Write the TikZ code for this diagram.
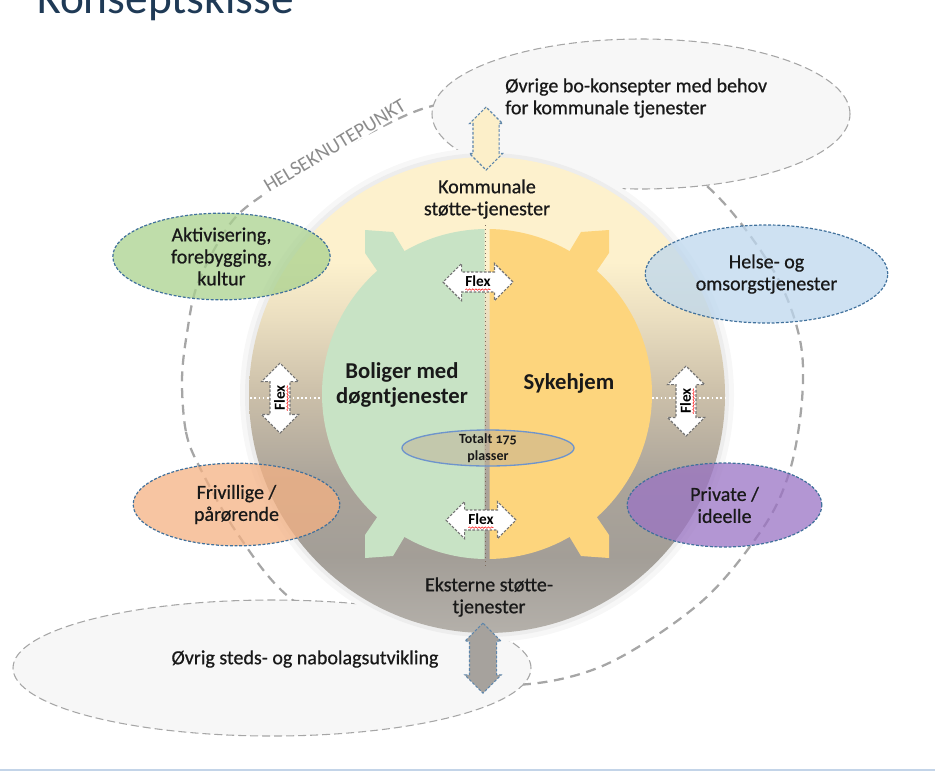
\documentclass[tikz,border=0pt]{standalone}
\usepackage{fontspec}
\setmainfont{Carlito}
\newfontfamily\lblfont{Carlito}[FakeBold=0.7]
\usetikzlibrary{shapes.geometric,shapes.arrows,decorations.pathmorphing}

\definecolor{titleblue}{HTML}{1F3A56}
\definecolor{ringtop}{HTML}{FDF1CD}
\definecolor{ringupmid}{HTML}{EADEC0}
\definecolor{ringmid}{HTML}{CBBFA9}
\definecolor{ringlowmid}{HTML}{ABA49A}
\definecolor{ringlow}{HTML}{A39E97}
\definecolor{ringbot}{HTML}{B4B0AA}
\definecolor{boliggreen}{HTML}{C8E3C5}
\definecolor{sykeyellow}{HTML}{FDD57D}
\definecolor{aktivgreen}{HTML}{A9D18E}
\definecolor{frivorange}{HTML}{F4B183}
\definecolor{helseblue}{HTML}{BDD7EE}
\definecolor{privpurple}{HTML}{9A73C4}
\definecolor{dashblue}{HTML}{41719C}
\definecolor{dashgrey}{HTML}{A6A6A6}
\definecolor{knutegrey}{HTML}{8C8C8C}
\definecolor{totaltfill}{HTML}{BFAE94}
\definecolor{totaltline}{HTML}{6E94CC}
\definecolor{linkyellow}{HTML}{FCEFC9}
\definecolor{linkgrey}{HTML}{A6A29D}
\definecolor{divbrown}{HTML}{7D6B5D}
\definecolor{bottomblue}{HTML}{C3D4E8}

\pgfdeclareverticalshading{ringshade}{100bp}{color(0bp)=(ringbot); color(25bp)=(ringbot); color(33bp)=(ringlow); color(41bp)=(ringlowmid); color(50bp)=(ringmid); color(58bp)=(ringupmid); color(64bp)=(ringtop); color(100bp)=(ringtop)}

\begin{document}
\begin{tikzpicture}[x=0.75pt,y=-0.75pt,
  lbl/.style={font=\lblfont\fontsize{15}{16.5}\selectfont, align=center, text=black!90},
  bigbold/.style={font=\fontsize{17}{19}\selectfont\bfseries, align=center, text=black!90},
  sphere/.style={ellipse, draw=dashblue, line width=0.9pt, dash pattern=on 2.2pt off 1.3pt, fill opacity=0.75, inner sep=0pt},
  wideoval/.style={ellipse, draw=dashgrey, line width=0.8pt, dash pattern=on 6pt off 3pt, fill=black!3, inner sep=0pt},
  knute/.style={draw=dashgrey, line width=1.7pt, dash pattern=on 7.5pt off 5pt},
  flexarrow/.style={double arrow, draw=black!55, line width=0.8pt, dash pattern=on 2pt off 1.2pt, fill=white,
    double arrow head extend=6.4pt, inner xsep=1pt, inner ysep=3.4pt, text height=7.4pt, text depth=0pt,
    minimum height=52.5pt, font=\fontsize{11.5}{12}\selectfont\bfseries},
  linkarrow/.style={double arrow, draw=dashblue!85, line width=0.8pt, dash pattern=on 2pt off 1.3pt, rotate=90,
    inner sep=0pt, text depth=0pt},
  wavy/.style={red!85, line width=0.45pt, decorate, decoration={snake, amplitude=0.55pt, segment length=2.4pt}}]
\useasboundingbox (0,0) rectangle (935,772);

\node[anchor=base west, inner sep=0pt, text=titleblue, font=\fontsize{34}{34}\selectfont] (title) at (37,13) {Konseptskisse};
\draw[bottomblue, line width=2.2pt] (0,770) -- (935,770);

\draw[knute] plot[smooth cycle, tension=0.55] coordinates {(182,380) (186,432) (200,468) (237,533) (290,598) (390,660) (500,685) (600,667) (700,603) (763,528) (790,470) (802,400) (800,340) (776,275) (723,202) (660,150) (580,115) (500,100) (425,108) (338,150) (266,193) (230,224) (198,283) (187,333)};
\node[text=knutegrey, fill=white, inner sep=1pt, rotate=31, anchor=base, font=\fontsize{15}{15}\selectfont] (knutetxt) at (338,151) {HELSEKNUTEPUNKT};

\node[wideoval, minimum width=313.5pt, minimum height=112.5pt] (bokons) at (641,114) {};
\node[wideoval, minimum width=388.5pt, minimum height=102pt] (nabolag) at (272,668) {};

\fill[black!3] (487,395) circle (247);
\fill[black!7] (487,395) circle (242);
\shade[shading=ringshade] (487,395) circle (238);

\draw[white, dotted, line width=1.2pt] (250,398) -- (320,398);
\draw[white, dotted, line width=1.2pt] (652,398) -- (727,398);

\begin{scope}
  \clip (0,0) rectangle (484.5,772);
  \fill[boliggreen] (487,394) circle (165);
  \fill[boliggreen] (487,394) -- (405,252) -- (393,232) -- (365,230) -- (365,253) -- (378,272) -- cycle;
  \fill[boliggreen] (487,394) -- (405,536) -- (393,556) -- (365,558) -- (365,535) -- (378,516) -- cycle;
\end{scope}
\begin{scope}
  \clip (489.5,0) rectangle (935,772);
  \fill[sykeyellow] (487,394) circle (165);
  \fill[sykeyellow] (487,394) -- (569,252) -- (581,232) -- (609,230) -- (609,253) -- (596,272) -- cycle;
  \fill[sykeyellow] (487,394) -- (569,536) -- (581,556) -- (609,558) -- (609,535) -- (596,516) -- cycle;
\end{scope}
\draw[divbrown, dotted, line width=1pt] (485.5,225) -- (485.5,567);

\node[flexarrow] (flextop) at (478,282) {Flex};
\node[flexarrow] (flexbot) at (481,520) {Flex};
\node[flexarrow, rotate=90] (flexleft) at (280,398) {Flex};
\node[flexarrow, rotate=90] (flexright) at (686,401) {Flex};
\foreach \n in {flextop,flexbot}
  \draw[wavy] ([yshift=-2pt]\n.text) -- ++(19pt,0);
\foreach \n in {flexleft,flexright}
  \draw[wavy] ([xshift=2pt]\n.text) -- ++(0,19pt);

\node[linkarrow, fill=linkyellow, text height=18.75pt, double arrow head extend=2.6pt, minimum height=47.25pt] (linktop) at (486,138.5) {};
\node[linkarrow, fill=linkgrey, text height=19.5pt, double arrow head extend=3.4pt, minimum height=52.5pt] (linkbot) at (483,658) {};

\node[sphere, fill=aktivgreen, minimum width=163pt, minimum height=65pt] (aktiv) at (221.5,256.5) {};
\node[sphere, fill=frivorange, minimum width=155pt, minimum height=62pt] (friv) at (236.5,504.5) {};
\node[sphere, fill=helseblue, minimum width=182pt, minimum height=73.5pt] (helse) at (766.5,274) {};
\node[sphere, fill=privpurple, minimum width=146pt, minimum height=63pt] (priv) at (724.5,505) {};

\node[ellipse, draw=totaltline, line width=1pt, fill=totaltfill, fill opacity=0.5, inner sep=0pt, minimum width=129pt, minimum height=27pt] (totalt) at (488,448) {};

\node[lbl] (kommtxt) at (487,199) {Kommunale\\støtte-tjenester};
\node[lbl] (ekstxt) at (489,597) {Eksterne støtte-\\tjenester};
\node[lbl, align=left, anchor=west, inner sep=0pt] (bokonstxt) at (505,98) {Øvrige bo-konsepter med behov\\for kommunale tjenester};
\node[lbl] (nabotxt) at (305,659) {Øvrig steds- og nabolagsutvikling};
\node[lbl] (aktivtxt) at (aktiv) {Aktivisering,\\forebygging,\\kultur};
\node[lbl] (helsetxt) at (helse) {Helse- og\\omsorgstjenester};
\node[lbl] (frivtxt) at (friv) {Frivillige /\\pårørende};
\node[lbl] (privtxt) at (priv) {Private /\\ideelle};
\node[bigbold] (boligtxt) at (402,385) {Boliger med\\døgntjenester};
\node[bigbold] (sykehjemtxt) at (569,383) {Sykehjem};
\node[font=\fontsize{10.5}{13}\selectfont\bfseries, align=center, text=black!90] (totalttxt) at (totalt) {Totalt {\addfontfeatures{Numbers=OldStyle}175}\\plasser};
\end{tikzpicture}
\end{document}
